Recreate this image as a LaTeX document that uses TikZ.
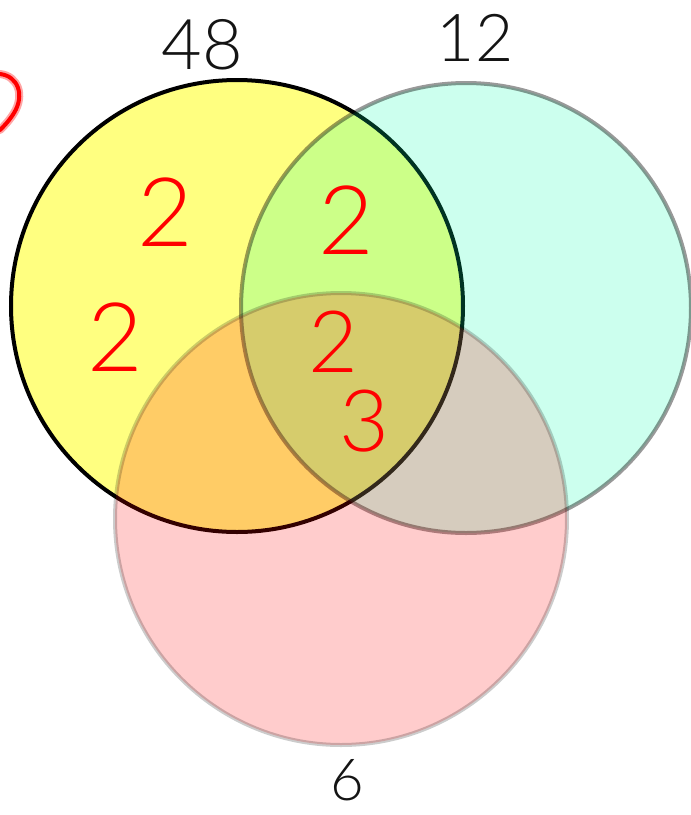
\documentclass[tikz,border=0pt]{standalone}
\usepackage{fontspec}
\newfontfamily\hand{Lato Light}
\definecolor{yelc}{RGB}{255,255,128}
\definecolor{cyac}{RGB}{0,255,170}
\definecolor{redc}{RGB}{255,0,0}
\definecolor{inkc}{RGB}{20,20,20}
\begin{document}
\begin{tikzpicture}[x=1pt,y=-1pt,
  setY/.style={circle,minimum size=452pt,inner sep=0pt,line width=4pt,draw=black,fill=yelc},
  setC/.style={circle,minimum size=450pt,inner sep=0pt,line width=4pt,draw=black,draw opacity=0.4,fill=cyac,fill opacity=0.2},
  setP/.style={circle,minimum size=452pt,inner sep=0pt,line width=4pt,draw=black,draw opacity=0.2,fill=red,fill opacity=0.2},
  blk/.style={text=inkc,font=\hand\fontsize{70}{70}\selectfont,inner sep=0pt},
  rd/.style={text=redc,font=\hand\fontsize{96}{96}\selectfont,inner sep=0pt}]
\useasboundingbox (0,0) rectangle (691,815);
\fill[white] (0,0) rectangle (691,815);
\node[setY] (Y) at (237,306) {};
\node[setC] (C) at (466,308) {};
\node[setP] (P) at (341,519) {};
\node[blk] (n48) at (202,45) {48};
\node[blk,font=\hand\fontsize{66}{66}\selectfont] (n12) at (475,38) {12};
\node[blk,font=\hand\fontsize{58}{58}\selectfont,anchor=base] (n6) at (347,800) {6};
\node[rd] (a1) at (165,212) {2};
\node[rd] (a2) at (115,337) {2};
\node[rd] (a3) at (346,220) {2};
\node[rd,font=\hand\fontsize{86}{86}\selectfont] (a4) at (333,342) {2};
\node[rd,font=\hand\fontsize{86}{86}\selectfont] (a5) at (364,421) {3};
\coordinate (m1) at (0,74);
\coordinate (m2) at (0,130);
\draw[redc,line width=8pt,opacity=0.35,line cap=round] (m1) .. controls (18,76) and (25,95) .. (14,113) .. controls (9,121) and (4,126) .. (m2);
\draw[redc,line width=4pt,line cap=round] (m1) .. controls (18,76) and (25,95) .. (14,113) .. controls (9,121) and (4,126) .. (m2);
\end{tikzpicture}
\end{document}
